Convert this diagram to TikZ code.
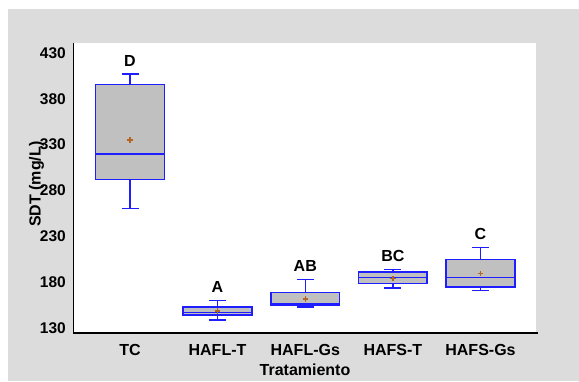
\documentclass[tikz,border=0pt]{standalone}
\usepackage{fontspec}
\setmainfont{Liberation Sans}
\usetikzlibrary{positioning}
\definecolor{bggray}{HTML}{DCDCDC}
\definecolor{boxgray}{HTML}{C0C0C0}
\definecolor{boxblue}{HTML}{1E1EFF}
\definecolor{meanbrown}{HTML}{B5651D}

\begin{document}
\begin{tikzpicture}[x=1pt,y=1pt,
    tbox/.style={draw=boxblue,fill=boxgray,line width=1.5pt},
    whisk/.style={draw=boxblue,line width=1.3pt},
    meanmk/.style={draw=meanbrown,line width=1.5pt},
    lbl/.style={font=\bfseries\fontsize{16}{16}\selectfont,inner sep=0pt},
    tick/.style={font=\bfseries\fontsize{15.5}{15.5}\selectfont,inner sep=0pt,anchor=east}]
    \useasboundingbox (0,0) rectangle (579,381);
    \fill[white]   (0,0) rectangle (579,381);
    \fill[bggray]  (7.5,0) rectangle (579,372);
    \fill[white]   (73.5,48) rectangle (536,338.3);
    % axes
    \coordinate (top) at (73.5,338.3);
    \coordinate (org) at (73.5,48);
    \coordinate (end) at (537.5,48);
    \draw[line width=1.3pt] (top) -- (org) -- (end);
    \begin{scope}[y=0.91667pt,yshift=-66.17pt]
        \foreach\v in {130,180,...,430}
            \node[tick] (t\v) at (66,\v) {\v};
    \end{scope}
    \foreach\i/\c/\lo/\qa/\md/\qb/\hi/\mn/\ltr/\nm in
        {1/130/260/292/320/395.5/407/335/D/TC,
         2/217.5/138.7/144/146.7/153/160/148.5/A/HAFL-T,
         3/305.3/153/155/156/169/183/161.6/AB/HAFL-Gs,
         4/392.9/173.6/178.8/185/191/194/184/BC/HAFS-T,
         5/480.5/170.7/175/185/204.5/218/189.7/C/HAFS-Gs}
    {
      \begin{scope}[y=0.91667pt,yshift=-66.17pt]
        \coordinate (w\i) at (\c,\hi);
        \coordinate (v\i) at (\c,\lo);
        \draw[whisk] (w\i) -- (\c,\qb) (v\i) -- (\c,\qa);
        \draw[whisk] ([xshift=-8.5pt]w\i) -- ([xshift=8.5pt]w\i);
        \draw[whisk] ([xshift=-8.5pt]v\i) -- ([xshift=8.5pt]v\i);
        \draw[tbox] (\c-34.3,\qa) rectangle (\c+34.3,\qb);
        \draw[tbox] (\c-34.3,\md) -- (\c+34.3,\md);
        \coordinate (m\i) at (\c,\mn);
        \draw[meanmk] ([xshift=-2.6pt]m\i) -- ([xshift=2.6pt]m\i)
                      ([yshift=-2.6pt]m\i) -- ([yshift=2.6pt]m\i);
        \node[lbl,above=7.5pt of w\i] (l\i) {\ltr};
      \end{scope}
      \node[lbl] (n\i) at (\c,31) {\nm};
    }
    \node[lbl] (xlab) at (305,11.7) {Tratamiento};
    \node[lbl,rotate=90,anchor=base] (ylab) at (40.7,196.8) {SDT (mg/L)};
\end{tikzpicture}
\end{document}
